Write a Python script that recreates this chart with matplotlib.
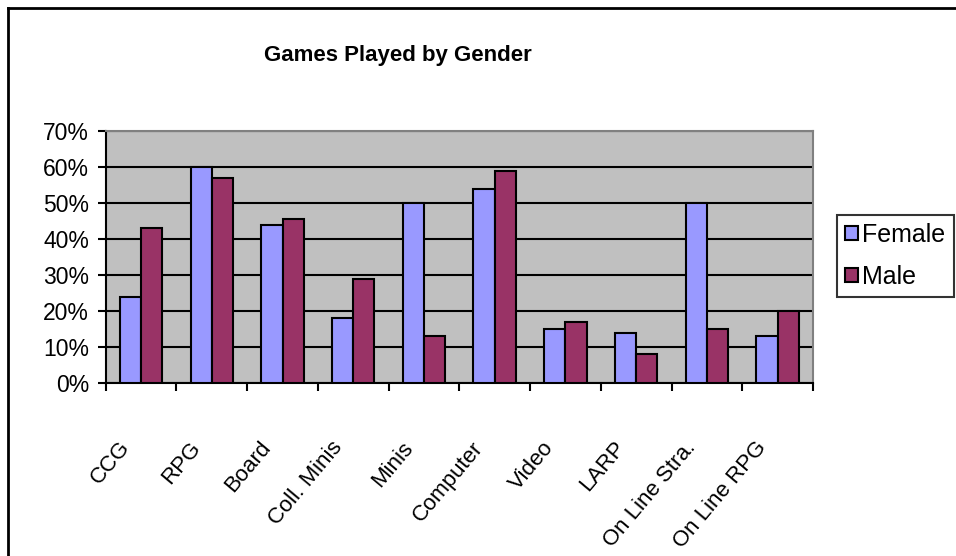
import numpy as np
import matplotlib
matplotlib.use("Agg")
import matplotlib.pyplot as plt
from matplotlib.lines import Line2D
from matplotlib.transforms import ScaledTranslation

categories = ["CCG", "RPG", "Board", "Coll. Minis", "Minis", "Computer",
              "Video", "LARP", "On Line Stra.", "On Line RPG"]
female = [24, 60, 44, 18, 50, 54, 15, 14, 50, 13]
male = [43, 57, 45.5, 29, 13, 59, 17, 8, 15, 20]
yticks = [0, 10, 20, 30, 40, 50, 60, 70]

plt.rcParams['font.family'] = ['Liberation Sans', 'DejaVu Sans']

fig = plt.figure(figsize=(9.56, 5.56), dpi=100)
W, H = 956.0, 556.0
ax = fig.add_axes([105.7 / W, 1 - 383 / H, (813 - 105.7) / W, (383 - 131) / H])
ax.set_facecolor("#C0C0C0")

x = np.arange(len(categories)) + 0.5
w = 0.3
ax.bar(x - w / 2, female, w, color="#9999FF", edgecolor="black", linewidth=1.5,
       label="Female", zorder=3)
ax.bar(x + w / 2, male, w, color="#993366", edgecolor="black", linewidth=1.5,
       label="Male", zorder=3)

ax.set_xlim(0, len(categories))
ax.set_ylim(0, 70)
ax.set_yticks(yticks)
ax.set_yticklabels([f"{v}%" for v in yticks], fontsize=16.5)
ax.yaxis.grid(True, color="black", linewidth=1.5, zorder=1)
ax.set_axisbelow(True)

ax.set_xticks(np.arange(len(categories) + 1), minor=True)
ax.set_xticks(x)
ax.set_xticklabels(categories, rotation=50, ha="right", va="center",
                   rotation_mode="anchor", fontsize=16,
                   family=['Liberation Sans Narrow', 'Liberation Sans', 'DejaVu Sans'])
ax.tick_params(axis="x", which="major", length=0, pad=44)
ax.tick_params(axis="x", which="minor", length=6, width=1.5, direction="out")
ax.tick_params(axis="y", length=6, width=1.5, direction="out", pad=6)
for lbl in ax.get_xticklabels():
    lbl.set_transform(lbl.get_transform() + ScaledTranslation(-0.15, 0, fig.dpi_scale_trans))

for s in ["left", "bottom"]:
    ax.spines[s].set_color("black")
    ax.spines[s].set_linewidth(1.5)
for s in ["top", "right"]:
    ax.spines[s].set_color("#808080")
    ax.spines[s].set_linewidth(1.5)

fig.text(398 / W, 1 - 55 / H, "Games Played by Gender", ha="center", va="center",
         fontsize=16, fontweight="bold")

leg = fig.legend(loc="upper left", bbox_to_anchor=(837 / W, 1 - 215 / H),
                 fontsize=18, frameon=True, fancybox=False, handlelength=0.5,
                 handleheight=0.5, handletextpad=0.2, borderpad=0.32,
                 labelspacing=0.72, borderaxespad=0)
leg.get_frame().set_edgecolor("black")
leg.get_frame().set_linewidth(1.5)

fig.add_artist(Line2D([8 / W, 8 / W], [0, 1 - 8 / H], transform=fig.transFigure,
                      color="black", linewidth=2))
fig.add_artist(Line2D([8 / W, 1], [1 - 8 / H, 1 - 8 / H], transform=fig.transFigure,
                      color="black", linewidth=2))

fig.savefig("out.png", dpi=100)
